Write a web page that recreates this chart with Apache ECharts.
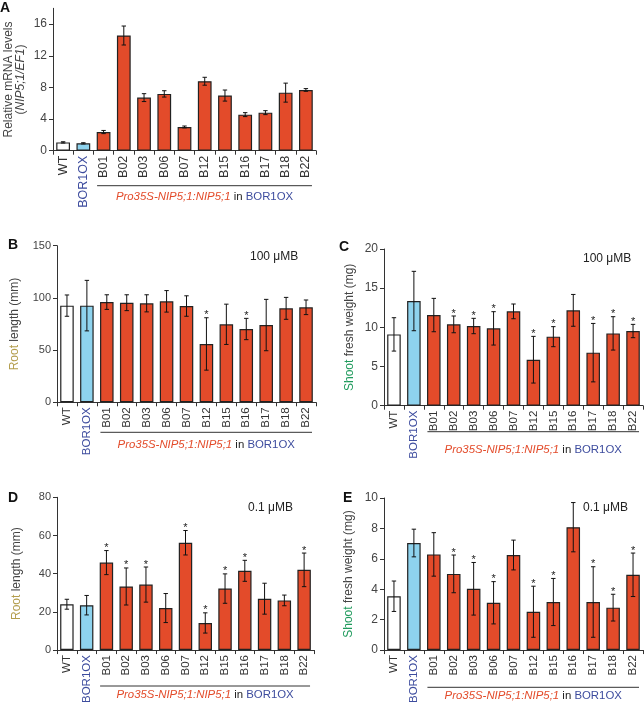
<!DOCTYPE html>
<html><head><meta charset="utf-8">
<script src="https://cdn.jsdelivr.net/npm/echarts@6/dist/echarts.min.js"></script>
<style>html,body{margin:0;padding:0;background:#fff}#c{width:644px;height:706px}</style>
</head><body><div id="c"></div><script>
const categories = ['WT','BOR1OX','B01','B02','B03','B06','B07','B12','B15','B16','B17','B18','B22'];
const mrnaVals = [1.05,0.93,2.36,14.56,6.71,7.18,3.0,8.78,6.97,4.56,4.81,7.34,7.68];
const mrnaErr  = [0.08,0.08,0.2,1.2,0.5,0.4,0.12,0.5,0.7,0.25,0.25,1.2,0.17];
const rootHighVals = [92.6,92.6,96,95.4,94.8,96.7,92.2,55.9,74.7,70.2,74,90,91];
const rootHighErr  = [10.2,24.2,7,7.6,8.2,10.3,9.8,25.1,19.3,10.2,24.6,10.5,7];
const rootHighSig  = [0,0,0,0,0,0,0,1,0,1,0,0,0];
const shootHighVals = [9.1,13.36,11.57,10.38,10.17,9.87,12.04,5.87,8.81,12.17,6.77,9.23,9.53];
const shootHighErr  = [2.13,3.79,2.13,1.07,0.98,2.13,0.94,2.98,1.28,2.03,3.73,2.13,0.85];
const shootHighSig  = [0,0,0,1,1,1,0,1,1,0,1,1,1];
const rootLowVals = [24.0,23.5,45.8,33.3,34.3,22,56.2,14.2,32.2,41.5,26.9,26,42];
const rootLowErr  = [2.6,5.1,6.3,9.7,9.2,7.6,6.4,5.3,7.7,5.5,8.1,2.8,8.8];
const rootLowSig  = [0,0,1,1,1,0,1,1,1,1,0,0,1];
const shootLowVals = [3.54,7.04,6.29,5.01,4.03,3.11,6.25,2.52,3.16,8.08,3.16,2.79,4.95];
const shootLowErr  = [1.0,0.91,1.43,1.24,1.73,1.39,0.98,1.68,1.55,1.62,2.32,0.88,1.43];
const shootLowSig  = [0,0,0,1,1,1,0,1,1,0,1,1,1];
const mrnaTicks = [0,4,8,12,16];

const FONT = 'Liberation Sans, Arial, sans-serif';
const RED = '#e34b2a', BLUE = '#8ed3ee', NAVY = '#3d4c9e', TXT = '#444';

const panels = [
  {letter:'A', vals:mrnaVals, err:mrnaErr, sig:null, grid:{left:53, top:8.3, width:263, height:142.4},
   max:18, ticks:mrnaTicks, fs:12, xfs:12.5, nameGap:26,
   name:'{n|Relative mRNA levels}\n{n|(}{i|NIP5;1/EF1}{n|)}', note:null,
   lineDy:35, textDy:46, letterPos:[0,1]},
  {letter:'B', vals:rootHighVals, err:rootHighErr, sig:rootHighSig, grid:{left:57, top:245.7, width:259, height:156.6},
   max:150, interval:50, fs:11, xfs:11.5, nameGap:36,
   name:'{r|Root}{n| length (mm)}', note:'100 μMB', notePos:[250,251],
   lineDy:30, textDy:43, letterPos:[8,238]},
  {letter:'C', vals:shootHighVals, err:shootHighErr, sig:shootHighSig, grid:{left:384, top:249, width:259, height:156.7},
   max:20, interval:5, fs:12, xfs:11.5, nameGap:28,
   name:'{s|Shoot}{n| fresh weight (mg)}', note:'100 μMB', notePos:[583,253],
   lineDy:26, textDy:44, letterPos:[339,240]},
  {letter:'D', vals:rootLowVals, err:rootLowErr, sig:rootLowSig, grid:{left:57, top:497.3, width:257, height:157.7},
   max:80, interval:20, fs:11, xfs:11.5, nameGap:34,
   name:'{r|Root}{n| length (mm)}', note:'0.1 μMB', notePos:[248,502],
   lineDy:31, textDy:40, letterPos:[8,491]},
  {letter:'E', vals:shootLowVals, err:shootLowErr, sig:shootLowSig, grid:{left:384, top:498, width:259, height:156.3},
   max:10, interval:2, fs:12, xfs:11.5, nameGap:29,
   name:'{s|Shoot}{n| fresh weight (mg)}', note:'0.1 μMB', notePos:[583,502],
   lineDy:33, textDy:42, letterPos:[343,491]}
];

const grids = [], xAxes = [], yAxes = [], series = [];
panels.forEach((p, k) => {
  grids.push(Object.assign({containLabel:false}, p.grid));
  xAxes.push({
    type:'category', gridIndex:k,
    data: categories.map(c => c === 'BOR1OX' ? {value:c, textStyle:{color:NAVY}} : c),
    axisLine:{lineStyle:{color:'#333', width:1}},
    axisTick:{show:true, length:4, lineStyle:{color:'#333'}},
    axisLabel:{rotate:90, fontSize:p.xfs, color:'#333', fontFamily:FONT, margin:5, interval:0}
  });
  const y = {
    type:'value', gridIndex:k, min:0, max:p.max,
    splitLine:{show:false},
    axisLine:{show:true, lineStyle:{color:'#333', width:1}},
    axisTick:{show:true, length:4, lineStyle:{color:'#333'}},
    axisLabel:{fontSize:p.fs, color:TXT, fontFamily:FONT, margin:6},
    name:p.name, nameLocation:'middle', nameGap:p.nameGap, nameRotate:90,
    nameTextStyle:{fontFamily:FONT, fontSize:12, color:TXT, lineHeight:12,
      rich:{n:{fontSize:12, color:TXT, fontFamily:FONT, lineHeight:12},
            i:{fontSize:12, color:TXT, fontFamily:FONT, fontStyle:'italic', lineHeight:12},
            r:{fontSize:12, color:'#b39d4c', fontFamily:FONT},
            s:{fontSize:12, color:'#1f9a5c', fontFamily:FONT}}}
  };
  if (p.ticks) {
    y.axisLabel.customValues = p.ticks;
    y.axisTick.customValues = p.ticks;
  } else {
    y.interval = p.interval;
  }
  yAxes.push(y);
  series.push({
    type:'bar', xAxisIndex:k, yAxisIndex:k, barWidth:'68%',
    data: p.vals.map((v,i) => ({value:v, itemStyle:{color: i===0 ? '#ffffff' : (i===1 ? BLUE : RED)}})),
    itemStyle:{borderColor:'#222', borderWidth:1.2},
    silent:true, animation:false
  });
  series.push({
    type:'custom', xAxisIndex:k, yAxisIndex:k, z:10, animation:false, silent:true,
    data: p.vals.map((v,i) => [i, v, p.err[i], p.sig ? p.sig[i] : 0]),
    renderItem: (params, api) => {
      const x = api.value(0), v = api.value(1), e = api.value(2), s = api.value(3);
      const top = api.coord([x, v + e]);
      const bot = api.coord([x, v - e]);
      const cap = 2.2;
      const st = {stroke:'#111', lineWidth:1};
      const ch = [
        {type:'line', shape:{x1:top[0], y1:top[1], x2:bot[0], y2:bot[1]}, style:st},
        {type:'line', shape:{x1:top[0]-cap, y1:top[1], x2:top[0]+cap, y2:top[1]}, style:st},
        {type:'line', shape:{x1:bot[0]-cap, y1:bot[1], x2:bot[0]+cap, y2:bot[1]}, style:st}
      ];
      if (s) ch.push({type:'text', x:top[0], y:top[1]-8,
        style:{text:'*', fontSize:11, fontFamily:FONT, fill:'#222', align:'center', verticalAlign:'top'}});
      return {type:'group', children:ch};
    }
  });
});

const chart = echarts.init(document.getElementById('c'), null, {renderer:'canvas'});
chart.setOption({animation:false, grid:grids, xAxis:xAxes, yAxis:yAxes, series:series});

const graphics = [];
panels.forEach((p, k) => {
  const c0 = chart.convertToPixel({xAxisIndex:k}, 2);
  const c1 = chart.convertToPixel({xAxisIndex:k}, 12);
  const band = (c1 - c0) / 10;
  const base = p.grid.top + p.grid.height;
  const x1 = c0 - band * 0.32, x2 = Math.min(c1 + band * 0.3, 643);
  graphics.push({type:'line', shape:{x1:x1, y1:base + p.lineDy, x2:x2, y2:base + p.lineDy},
    style:{stroke:'#333', lineWidth:1}});
  graphics.push({type:'text', x:(x1 + x2) / 2, y:base + p.textDy,
    style:{text:'{r|Pro35S-NIP5;1:NIP5;1}{k| in }{b|BOR1OX}', align:'center', verticalAlign:'middle',
      rich:{r:{fontSize:11.4, fontStyle:'italic', fill:RED, fontFamily:FONT},
            k:{fontSize:11.4, fill:'#222', fontFamily:FONT},
            b:{fontSize:11.4, fill:NAVY, fontFamily:FONT}}}});
  graphics.push({type:'text', x:p.letterPos[0], y:p.letterPos[1],
    style:{text:p.letter, fontSize:14, fontWeight:'bold', fill:'#111', fontFamily:FONT}});
  if (p.note) graphics.push({type:'text', x:p.notePos[0], y:p.notePos[1],
    style:{text:p.note, fontSize:12, fill:'#222', fontFamily:FONT}});
});
chart.setOption({graphic:graphics});
</script></body></html>
